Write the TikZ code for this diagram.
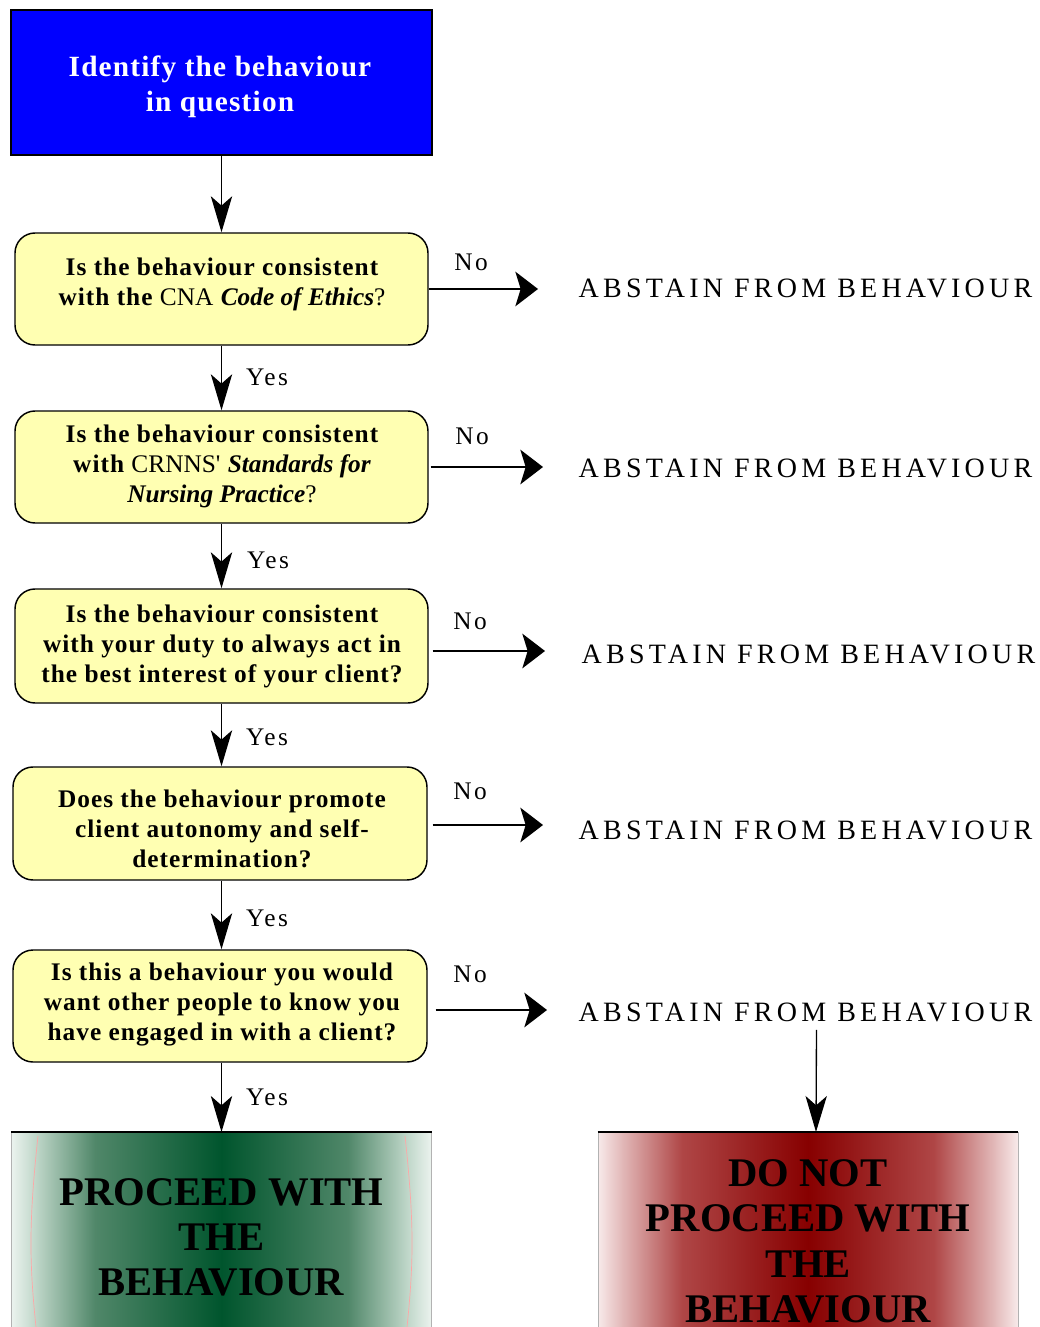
\documentclass[tikz,border=0pt]{standalone}
\usepackage{fontspec}
\setmainfont{Liberation Serif}
\newfontfamily\blueface[LetterSpace=4]{Liberation Serif}
\newfontfamily\boxface[LetterSpace=4]{Liberation Serif}
\newfontfamily\plainface{Liberation Serif}
\newfontfamily\capface[LetterSpace=15]{Liberation Serif}
\newfontfamily\labface[LetterSpace=10]{Liberation Serif}
\usetikzlibrary{arrows.meta}
\definecolor{qyellow}{RGB}{255,255,178}
\definecolor{qblue}{RGB}{0,0,255}
\definecolor{gE}{RGB}{236,243,239}
\definecolor{gL}{RGB}{190,214,200}
\definecolor{gM}{RGB}{80,135,105}
\definecolor{gD}{RGB}{0,85,45}
\definecolor{rE}{RGB}{248,234,234}
\definecolor{rL}{RGB}{225,182,182}
\definecolor{rM}{RGB}{175,70,70}
\definecolor{rD}{RGB}{135,0,0}
\pgfdeclarehorizontalshading{greensh}{100bp}{color(0bp)=(gE); color(25bp)=(gE); color(28bp)=(gL); color(35bp)=(gM); color(50bp)=(gD); color(65bp)=(gM); color(72bp)=(gL); color(75bp)=(gE); color(100bp)=(gE)}
\pgfdeclarehorizontalshading{redsh}{100bp}{color(0bp)=(rE); color(25bp)=(rE); color(28bp)=(rL); color(35bp)=(rM); color(50bp)=(rD); color(65bp)=(rM); color(72bp)=(rL); color(75bp)=(rE); color(100bp)=(rE)}
\tikzset{
  qbox/.style={draw=black, line width=1.1pt, fill=qyellow, rounded corners=15pt,
    minimum width=309.75pt, minimum height=84pt, inner sep=0pt},
  qtext/.style={align=center, inner sep=0pt,
    font=\boxface\fontsize{19pt}{22.5pt}\selectfont\bfseries},
  topbox/.style={draw=black, line width=1pt, fill=qblue,
    minimum width=315.75pt, minimum height=108.75pt, inner sep=0pt},
  toptext/.style={text=white, align=center, inner sep=0pt,
    font=\blueface\fontsize{22pt}{26pt}\selectfont\bfseries},
  endbox/.style={draw=gray!60, line width=0.6pt, minimum width=315.5pt, align=center, inner sep=0pt,
    font=\plainface\fontsize{30.5pt}{34pt}\selectfont\bfseries},
  abst/.style={inner sep=0pt, font=\capface\fontsize{21pt}{24pt}\selectfont},
  lab/.style={inner sep=0pt, font=\labface\fontsize{19pt}{22pt}\selectfont},
  varrow/.style={line width=1pt, -{Stealth[length=27pt,width=16pt,inset=7pt]}},
  harrow/.style={line width=1.2pt, -{Stealth[length=17pt,width=26pt,inset=4pt]}},
}
\begin{document}
\begin{tikzpicture}[x=0.75pt,y=-0.75pt]
\useasboundingbox (0,0) rectangle (1039,1327);

\node[topbox] (top) at (221.5,82.5) {};
\node[toptext] (ttop) at (220,87) {Identify the behaviour\\in question};

\node[qbox] (b1) at (221.5,289) {};
\node[qtext] (t1) at (222,284) {Is the behaviour consistent\\with the {\plainface\mdseries CNA} {\plainface\itshape Code of Ethics}{\plainface\mdseries ?}};
\node[qbox] (b2) at (221.5,467) {};
\node[qtext] (t2) at (222,466) {Is the behaviour consistent\\with {\plainface\mdseries CRNNS'} {\plainface\itshape Standards for}\\{\plainface\itshape Nursing Practice}{\plainface\mdseries ?}};
\node[qbox, minimum height=85.5pt] (b3) at (221.5,646) {};
\node[qtext] (t3) at (222,646) {Is the behaviour consistent\\with your duty to always act in\\the best interest of your client?};
\node[qbox, minimum width=310.5pt, minimum height=84.75pt] (b4) at (220,823.5) {};
\node[qtext] (t4) at (222,829) {Does the behaviour promote\\client autonomy and self-\\determination?};
\node[qbox, minimum width=310.5pt] (b5) at (220,1006) {};
\node[qtext] (t5) at (222,1004) {Is this a behaviour you would\\want other people to know you\\have engaged in with a client?};

\node[endbox, anchor=north, minimum height=157.5pt, shading=greensh] (go) at (221.5,1132) {PROCEED WITH\\THE\\BEHAVIOUR};
\node[endbox, anchor=north, minimum width=315pt, minimum height=163.5pt, shading=redsh] (stop) at (808,1132) {DO NOT\\PROCEED WITH\\THE\\BEHAVIOUR};
\draw[line width=1.6pt] (go.north west) -- (go.north east);
\draw[line width=1.6pt] (stop.north west) -- (stop.north east);
\draw[red!35, line width=0.5pt] (38,1136) .. controls (29,1220) and (29,1260) .. (36,1327);
\draw[red!35, line width=0.5pt] (405,1136) .. controls (414,1220) and (414,1260) .. (407,1327);

\node[abst] (a1) at (805.5,288) {ABSTAIN FROM BEHAVIOUR};
\node[abst] (a2) at (805.5,468) {ABSTAIN FROM BEHAVIOUR};
\node[abst] (a3) at (808.5,654) {ABSTAIN FROM BEHAVIOUR};
\node[abst] (a4) at (805.5,830) {ABSTAIN FROM BEHAVIOUR};
\node[abst] (a5) at (805.5,1012) {ABSTAIN FROM BEHAVIOUR};

\node[lab] (n1) at (471,262) {No};
\node[lab] (n2) at (472,436) {No};
\node[lab] (n3) at (470,621) {No};
\node[lab] (n4) at (470,791) {No};
\node[lab] (n5) at (470,974) {No};

\node[lab] (y1) at (267,377) {Yes};
\node[lab] (y2) at (268,560) {Yes};
\node[lab] (y3) at (267,737) {Yes};
\node[lab] (y4) at (267,918) {Yes};
\node[lab] (y5) at (267,1097) {Yes};

\coordinate (e1) at (538,289);
\coordinate (e2) at (543,467);
\coordinate (e3) at (545,651);
\coordinate (e4) at (543,825);
\coordinate (e5) at (547,1010);

\draw[varrow] (top.south) -- (b1.north);
\draw[varrow] (b1.south) -- (b2.north);
\draw[varrow] (b2.south) -- (b3.north);
\draw[varrow] (b3.south) -- (b4.north -| b3.south);
\draw[varrow] (b4.south -| b3.south) -- (b5.north -| b3.south);
\draw[varrow] (b5.south -| b3.south) -- (go.north);

\draw[harrow] (b1.east |- e1) -- (e1);
\draw[harrow] ([xshift=1.5pt]b2.east |- e2) -- (e2);
\draw[harrow] ([xshift=3pt]b3.east |- e3) -- (e3);
\draw[harrow] ([xshift=3.75pt]b4.east |- e4) -- (e4);
\draw[harrow] ([xshift=6pt]b5.east |- e5) -- (e5);

\draw[varrow] ([xshift=8.25pt,yshift=-6pt]a5.south) -- ([xshift=6pt]stop.north);
\end{tikzpicture}
\end{document}
